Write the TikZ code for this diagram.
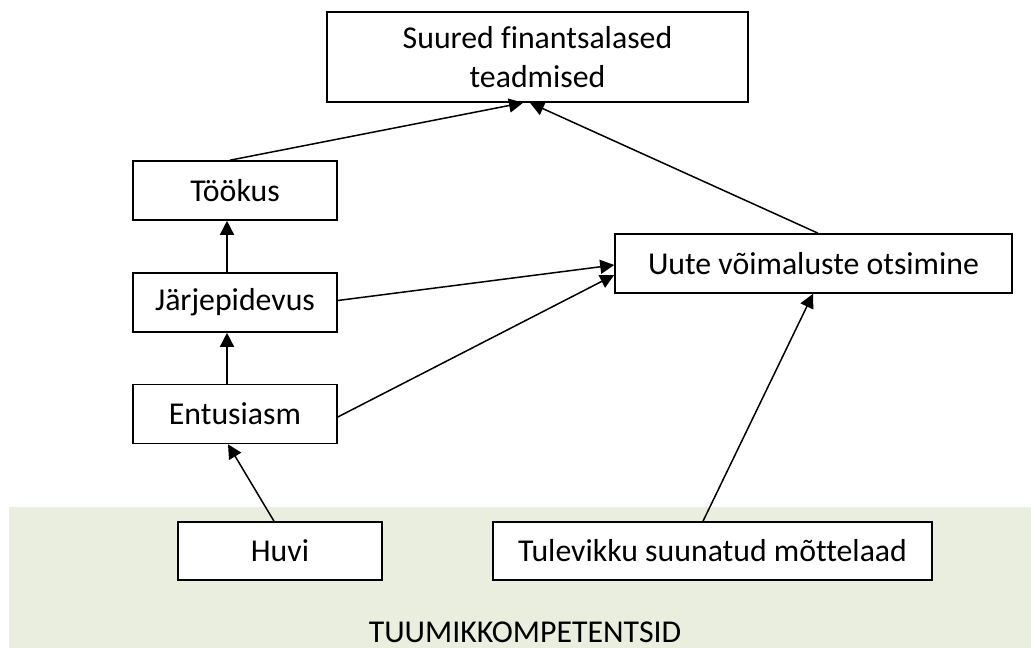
\documentclass[tikz,border=0pt]{standalone}
\usepackage{fontspec}
\setmainfont{Carlito}[Ligatures=NoCommon]
\usetikzlibrary{arrows.meta}
\definecolor{corebg}{RGB}{234,238,222}
\tikzset{
  box/.style={draw=black, line width=1.6pt, fill=white, rectangle, inner sep=0pt,
    minimum height=59pt, align=center, font=\fontsize{31.8}{39}\selectfont},
  link/.style={line width=1.5pt, -{Triangle[length=14pt,width=14pt]}},
}
\begin{document}
\begin{tikzpicture}[x=1pt,y=-1pt]
  \useasboundingbox (0,0) rectangle (1031,648);
  % core competences band
  \fill[corebg] (9,507) rectangle (1031,648);
  \node[anchor=base, font=\fontsize{31.8}{38}\selectfont] (core) at (525,642) {TUUMIKKOMPETENTSID};

  \node[box, minimum width=421pt, minimum height=90pt] (top) at (537.5,57) {Suured finantsalased\\teadmised};
  \node[box, minimum width=204pt] (took) at (235,190.5) {Töökus};
  \node[box, minimum width=204pt] (jarj) at (235,302.5) {Järjepidevus};
  \node[box, minimum width=204pt] (ent) at (235,414) {Entusiasm};
  \node[box, minimum width=397pt] (uute) at (813.5,263.5) {Uute võimaluste otsimine};
  \node[box, minimum width=204pt, minimum height=58pt] (huvi) at (280,551) {Huvi};
  \node[box, minimum width=439pt, minimum height=58pt] (tul) at (712.5,551) {Tulevikku suunatud mõttelaad};

  \draw[link] ([xshift=-5pt]took.north) -- ([xshift=-14.5pt]top.south);
  \draw[link] ([xshift=4.5pt]uute.north) -- ([xshift=-7.5pt]top.south);
  \draw[link] ([xshift=-8pt]jarj.north) -- ([xshift=-8pt]took.south);
  \draw[link] ([xshift=-8pt]ent.north) -- ([xshift=-8pt]jarj.south);
  \draw[link] ([yshift=2pt]jarj.east) -- ([yshift=-1.5pt]uute.west);
  \draw[link] ([yshift=-3pt]ent.east) -- ([yshift=-11.5pt]uute.west);
  \draw[link] ([xshift=-6pt]huvi.north) -- ([xshift=-7pt]ent.south);
  \draw[link] ([xshift=-9.5pt]tul.north) -- ([xshift=-0.5pt]uute.south);
\end{tikzpicture}
\end{document}
